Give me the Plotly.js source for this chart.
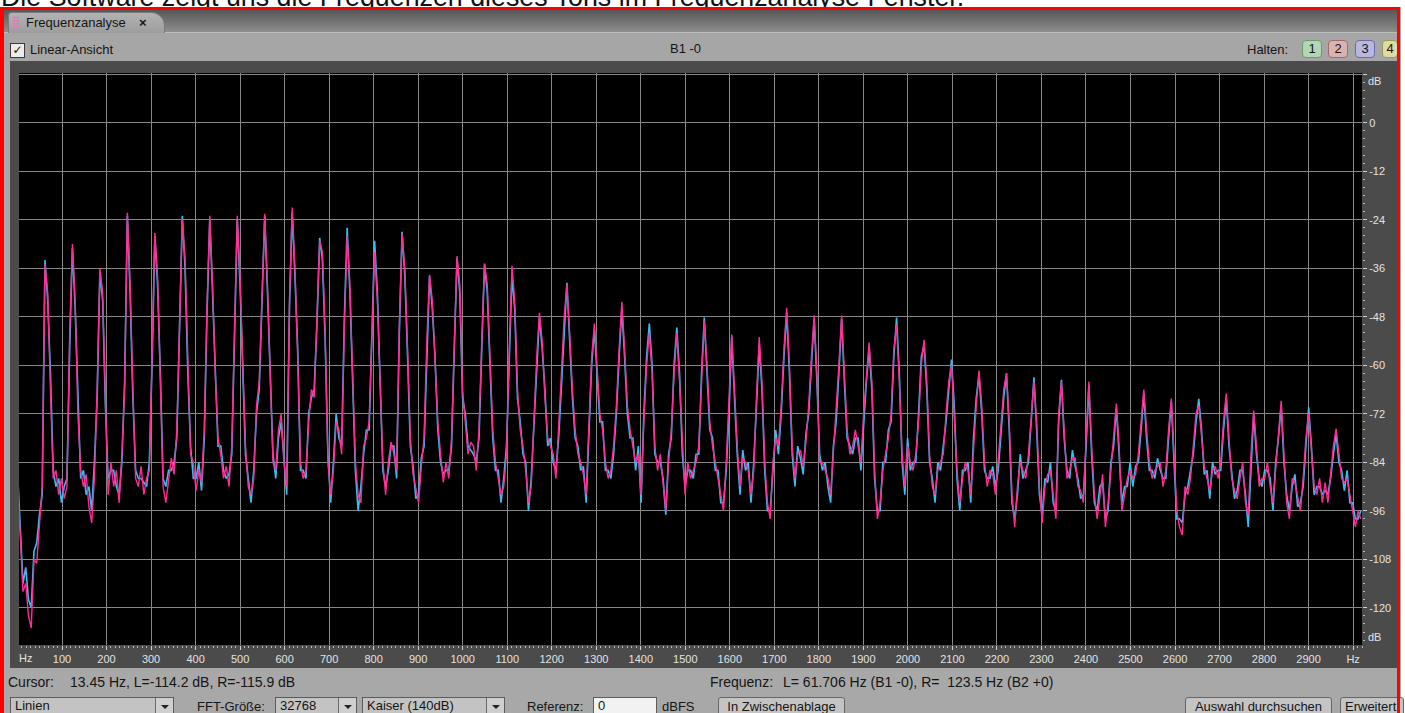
<!DOCTYPE html>
<html><head><meta charset="utf-8">
<script src="https://cdn.plot.ly/plotly-3.0.1.min.js"></script>
<style>
html,body{margin:0;padding:0;width:1405px;height:713px;overflow:hidden;background:#fff;font-family:"Liberation Sans",Arial,sans-serif;color:#151515;}
.a{position:absolute;white-space:pre;font-size:13px;line-height:15px;}
.i{font-size:14px;line-height:16px;}
#caption{position:absolute;left:1px;top:-16px;font-size:26.8px;line-height:27px;color:#111;white-space:nowrap;z-index:0;}
#win{position:absolute;left:0;top:7px;width:1401px;height:720px;background:#a8a8a8;z-index:1;}
#tabbar{position:absolute;left:3px;top:10px;width:1394px;height:22px;background:linear-gradient(#575757,#8d8d8d);z-index:2;}
#tab{position:absolute;left:8px;top:12px;width:155px;height:20px;background:linear-gradient(#b3b3b3,#9d9d9d);border:1px solid #7b7b7b;border-bottom:none;border-radius:4px 14px 0 0;z-index:3;}
#toolbar{position:absolute;left:3px;top:32px;width:1394px;height:29px;background:#a6a6a6;border-top:1px solid #bdbdbd;box-sizing:border-box;z-index:2;}
#plot{position:absolute;left:10px;top:61px;width:1387px;height:607px;z-index:4;}
#border{position:absolute;left:0;top:7px;width:1393px;height:720px;border-left:4px solid #f00;border-top:3px solid #f00;border-right:3px solid #f00;z-index:20;pointer-events:none;}
.z{z-index:5;}
.chk{position:absolute;left:10px;top:43px;width:13px;height:13px;border:1px solid #3a3a3a;background:#ececec;z-index:5;font-family:"DejaVu Sans";font-size:12px;line-height:13px;text-align:center;font-weight:bold;color:#111;}
.hb{position:absolute;top:40px;width:18px;height:16px;border-radius:4px;font-size:13px;line-height:16px;text-align:center;z-index:5;}
.box{position:absolute;top:697px;height:20px;background:#c3c3c3;border:1px solid #5c5c5c;box-sizing:border-box;z-index:5;font-size:13px;line-height:16px;padding-left:4px;white-space:pre;}
.arr{position:absolute;right:0;top:0;width:17px;height:20px;border-left:1px solid #6a6a6a;background:#cfcfcf;}
.arr:after{content:"";position:absolute;left:5px;top:7px;border-left:4px solid transparent;border-right:4px solid transparent;border-top:4px solid #222;}
.btn{position:absolute;top:697px;height:20px;background:#c4c4c4;border:1px solid #666;border-radius:3px;box-sizing:border-box;z-index:5;font-size:13px;line-height:17px;text-align:center;white-space:pre;}
.grip{position:absolute;left:13px;top:16px;width:7px;height:13px;z-index:5;background-image:radial-gradient(circle,#e878b8 1px,transparent 1.2px);background-size:3px 3px;}
</style>
</head><body>
<div id="caption">Die Software zeigt uns die Frequenzen dieses Tons im Frequenzanalyse Fenster.</div>
<div id="win"></div>
<div id="tabbar"></div>
<div id="tab"></div>
<div class="grip"></div>
<div class="a z" style="left:26px;top:15px;">Frequenzanalyse</div>
<div class="a z" style="left:139px;top:15px;font-weight:bold;">×</div>
<div id="toolbar"></div>
<div class="chk">✓</div>
<div class="a z" style="left:30px;top:42px;">Linear-Ansicht</div>
<div class="a z" style="left:670px;top:41px;">B1 -0</div>
<div class="a z" style="left:1247px;top:42px;">Halten:</div>
<div class="hb" style="left:1302px;background:#b4d6b4;border:1px solid #6c9a6c;">1</div>
<div class="hb" style="left:1328px;background:#d9b2b2;border:1px solid #9c6c6c;">2</div>
<div class="hb" style="left:1355px;background:#b8b8df;border:1px solid #6c6ca0;">3</div>
<div class="hb" style="left:1382px;width:14px;background:#dcdca4;border:1px solid #9a9a5a;">4</div>
<div id="plot"></div>
<div class="a i z" style="left:8px;top:674px;">Cursor:</div>
<div class="a i z" style="left:70px;top:674px;">13.45 Hz, L=-114.2 dB, R=-115.9 dB</div>
<div class="a i z" style="left:710px;top:674px;">Frequenz:</div>
<div class="a i z" style="left:783px;top:674px;">L= 61.706 Hz (B1 -0), R=  123.5 Hz (B2 +0)</div>
<div class="box" style="left:10px;width:164px;">Linien<div class="arr"></div></div>
<div class="a z" style="left:197px;top:699px;">FFT-Größe:</div>
<div class="box" style="left:275px;width:82px;">32768<div class="arr"></div></div>
<div class="box" style="left:362px;width:143px;">Kaiser (140dB)<div class="arr"></div></div>
<div class="a z" style="left:527px;top:699px;">Referenz:</div>
<div class="box" style="left:593px;width:64px;background:#f2f2f2;">0</div>
<div class="a z" style="left:662px;top:699px;">dBFS</div>
<div class="btn" style="left:718px;width:127px;">In Zwischenablage</div>
<div class="btn" style="left:1185px;width:147px;">Auswahl durchsuchen</div>
<div class="btn" style="left:1340px;width:64px;text-align:left;padding-left:4px;">Erweitert</div>
<div id="border"></div>
<script>
// FFT bins: first bin frequency and bin spacing (Hz)
const BIN_START_HZ = 0;
const BIN_STEP_HZ = 6.1706;

// Right channel (magenta), dB per bin
const RIGHT_DB = [
-88,-104,-116,-114,-122,-125,-108,-109,-100,-90,
-35,-42,-66,-88,-86,-92,-88,-93,-90,-52,
-30,-44,-72,-86,-90,-87,-95,-99,-88,-66,
-36,-42,-68,-92,-84,-90,-86,-94,-82,-66,
-22.3,-40,-66,-88,-90,-85,-92,-88,-86,-58,
-27.3,-38,-64,-90,-94,-89,-83,-87,-76,-50,
-23.8,-34,-60,-82,-84,-91,-86,-89,-76,-45,
-23,-40,-62,-78,-82,-88,-85,-90,-80,-50,
-23,-38,-58,-80,-90,-92,-88,-70,-64,-44,
-22.5,-40,-62,-84,-86,-76,-72,-84,-90,-44,
-21,-36,-58,-84,-88,-86,-74,-66,-68,-48,
-29.2,-32,-52,-84,-92,-86,-74,-76,-82,-50,
-28,-40,-62,-84,-92,-94,-80,-78,-74,-52,
-32,-44,-64,-84,-92,-84,-79,-82,-86,-50,
-27.5,-36,-56,-78,-87,-91,-94,-85,-78,-54,
-37.6,-44,-60,-74,-82,-89,-84,-88,-78,-54,
-33,-40,-66,-74,-82,-79,-80,-86,-76,-54,
-34.8,-40,-60,-76,-84,-88,-92,-90,-82,-56,
-35.4,-44,-66,-76,-80,-86,-94,-90,-72,-58,
-47,-54,-68,-78,-80,-82,-88,-76,-62,-48,
-40,-52,-66,-76,-82,-84,-87,-92,-76,-58,
-49.7,-60,-72,-76,-84,-88,-86,-80,-70,-56,
-44.3,-56,-70,-76,-80,-84,-82,-92,-74,-60,
-52,-62,-80,-86,-82,-90,-96,-84,-76,-62,
-52,-64,-80,-92,-84,-88,-86,-84,-80,-64,
-49,-60,-74,-80,-84,-88,-92,-96,-84,-70,
-52.4,-66,-80,-90,-83,-84,-86,-92,-86,-68,
-53,-64,-84,-94,-98,-84,-78,-80,-70,-56,
-45.8,-60,-80,-88,-82,-81,-85,-79,-70,-58,
-47.7,-62,-84,-84,-86,-88,-92,-82,-72,-60,
-47.7,-62,-76,-82,-80,-76,-80,-84,-72,-62,
-54.4,-64,-86,-98,-94,-86,-82,-78,-72,-56,
-50,-64,-82,-90,-80,-84,-86,-82,-74,-60,
-53.7,-64,-82,-90,-92,-86,-84,-82,-72,-64,
-60,-72,-86,-94,-88,-84,-86,-92,-80,-70,
-61.3,-70,-84,-90,-86,-87,-92,-84,-74,-66,
-62,-74,-92,-100,-90,-84,-86,-88,-82,-72,
-64,-74,-90,-99,-90,-87,-86,-92,-98,-72,
-64,-76,-88,-86,-83,-83,-90,-91,-94,-78,
-64,-80,-92,-98,-92,-87,-100,-94,-86,-78,
-69.5,-80,-96,-92,-88,-86,-88,-87,-82,-74,
-66,-76,-84,-88,-86,-85,-84,-90,-86,-76,
-68.2,-82,-96,-100,-102,-90,-92,-88,-80,-72,
-70,-78,-85,-88,-91,-86,-85,-88,-84,-74,
-67,-78,-88,-91,-93,-88,-84,-94,-97,-82,
-71.2,-80,-90,-88,-88,-84,-90,-94,-86,-76,
-68.8,-82,-94,-98,-88,-89,-93,-96,-88,-78,
-72,-82,-90,-92,-88,-94,-89,-94,-86,-80,
-75.7,-82,-88,-89,-88,-92,-96,-100,-96,-98
];

// Left channel (cyan), dB per bin
const LEFT_DB = [
-86,-100,-114,-110,-118,-120,-106,-104,-97,-92,
-34,-44,-62,-86,-90,-88,-94,-90,-88,-56,
-31,-46,-70,-88,-86,-92,-90,-96,-84,-68,
-37,-44,-70,-88,-86,-86,-90,-92,-84,-64,
-23,-42,-68,-86,-88,-88,-89,-90,-84,-60,
-28,-40,-62,-88,-90,-86,-86,-84,-78,-52,
-23,-36,-62,-80,-88,-88,-84,-91,-78,-47,
-24,-42,-60,-80,-80,-86,-88,-87,-82,-52,
-24,-40,-60,-82,-88,-94,-86,-72,-66,-46,
-23,-42,-60,-82,-88,-78,-74,-82,-92,-46,
-22,-38,-56,-86,-86,-88,-72,-68,-66,-50,
-28.5,-34,-54,-82,-94,-84,-72,-78,-80,-48,
-26,-42,-64,-86,-96,-90,-82,-76,-76,-50,
-29.2,-42,-62,-86,-90,-86,-80,-80,-88,-52,
-27,-38,-58,-80,-85,-93,-92,-83,-80,-56,
-38,-46,-58,-76,-84,-87,-86,-86,-80,-56,
-33.5,-42,-68,-72,-80,-81,-82,-84,-78,-56,
-35,-42,-62,-78,-86,-86,-94,-88,-80,-58,
-38,-46,-68,-74,-82,-84,-96,-88,-74,-60,
-48,-56,-66,-80,-78,-84,-86,-78,-64,-50,
-39.6,-54,-68,-78,-80,-86,-85,-94,-78,-60,
-51,-62,-74,-74,-86,-86,-88,-82,-72,-58,
-46,-58,-72,-78,-78,-86,-80,-94,-72,-58,
-49.7,-60,-82,-84,-84,-88,-97,-82,-78,-60,
-50.7,-62,-82,-90,-86,-86,-88,-82,-82,-62,
-48.2,-62,-76,-78,-86,-86,-94,-94,-86,-72,
-53,-68,-82,-92,-81,-86,-84,-94,-84,-70,
-55,-66,-86,-96,-96,-86,-76,-82,-72,-58,
-47,-62,-82,-90,-80,-83,-87,-77,-72,-60,
-48.5,-64,-82,-86,-84,-90,-94,-80,-74,-62,
-48.5,-64,-78,-80,-82,-78,-78,-86,-74,-64,
-56,-66,-88,-96,-96,-84,-84,-76,-74,-58,
-48.2,-62,-84,-92,-78,-86,-84,-84,-72,-58,
-55,-66,-84,-88,-94,-84,-86,-80,-74,-66,
-58.6,-70,-88,-96,-86,-86,-84,-94,-78,-68,
-62.5,-72,-86,-88,-88,-85,-90,-86,-76,-68,
-62,-76,-94,-98,-92,-82,-88,-86,-84,-74,
-63,-76,-92,-97,-88,-89,-84,-94,-96,-74,
-63.6,-78,-86,-88,-81,-85,-88,-93,-92,-80,
-65,-82,-94,-96,-90,-89,-98,-96,-84,-80,
-70.5,-82,-94,-90,-90,-84,-90,-85,-84,-76,
-67,-78,-86,-86,-88,-83,-86,-88,-88,-78,
-69,-84,-98,-98,-99,-92,-90,-86,-82,-74,
-68.3,-76,-87,-86,-93,-84,-87,-86,-86,-76,
-68,-80,-86,-93,-91,-86,-86,-92,-100,-84,
-72,-82,-88,-90,-86,-86,-88,-96,-84,-78,
-70,-84,-92,-96,-90,-87,-95,-94,-90,-80,
-70.4,-80,-92,-90,-90,-92,-91,-92,-88,-82,
-77,-84,-86,-91,-86,-94,-94,-98,-98,-96
];

const X_TICK_VALUES = [100,200,300,400,500,600,700,800,900,1000,1100,1200,1300,1400,1500,1600,1700,1800,1900,2000,2100,2200,2300,2400,2500,2600,2700,2800,2900,3000];
const X_TICK_LABELS = ["100","200","300","400","500","600","700","800","900","1000","1100","1200","1300","1400","1500","1600","1700","1800","1900","2000","2100","2200","2300","2400","2500","2600","2700","2800","2900","Hz"];
const Y_TICK_VALUES = [12,0,-12,-24,-36,-48,-60,-72,-84,-96,-108,-120];
const Y_TICK_LABELS = ["","0","-12","-24","-36","-48","-60","-72","-84","-96","-108","-120"];

const tickFont = {family:'"Liberation Sans", Arial, sans-serif', size:11, color:'#e2e2e2'};

const traces = [
  {type:'scatter', mode:'lines', name:'L', x0:BIN_START_HZ, dx:BIN_STEP_HZ, y:LEFT_DB,
   line:{color:'#3bbcf2', width:1.6}, hoverinfo:'skip'},
  {type:'scatter', mode:'lines', name:'R', x0:BIN_START_HZ, dx:BIN_STEP_HZ, y:RIGHT_DB,
   line:{color:'#ff2b92', width:1.4}, hoverinfo:'skip'}
];

const layout = {
  width:1387, height:607,
  margin:{l:9, r:35, t:12, b:23, pad:0},
  paper_bgcolor:'#4b4b4b', plot_bgcolor:'#000000',
  showlegend:false,
  xaxis:{range:[3.4,3020], tickmode:'array', tickvals:X_TICK_VALUES, ticktext:X_TICK_LABELS,
    showgrid:true, gridcolor:'#878787', gridwidth:1, zeroline:false, showline:false,
    ticks:'outside', ticklen:4, tickcolor:'#d0d0d0', tickwidth:1, tickfont:tickFont, tickangle:0,
    minor:{tickmode:'linear', tick0:0, dtick:10, ticks:'outside', ticklen:2, tickcolor:'#b8b8b8', showgrid:false},
    fixedrange:true},
  yaxis:{side:'right', range:[-129.2,12.3], tickmode:'array', tickvals:Y_TICK_VALUES, ticktext:Y_TICK_LABELS,
    showgrid:true, gridcolor:'#878787', gridwidth:1, zeroline:false, showline:false,
    ticks:'outside', ticklen:4, tickcolor:'#d0d0d0', tickwidth:1, tickfont:tickFont,
    minor:{tickmode:'linear', tick0:0, dtick:2, ticks:'outside', ticklen:2, tickcolor:'#b8b8b8', showgrid:false},
    fixedrange:true},
  annotations:[
    {text:'Hz', xref:'x', x:19, yref:'paper', y:0, yanchor:'top', xanchor:'center', yshift:-5, showarrow:false, font:tickFont},
    {text:'dB', xref:'paper', x:1, xanchor:'left', xshift:4, yref:'y', y:10.3, showarrow:false, font:tickFont},
    {text:'dB', xref:'paper', x:1, xanchor:'left', xshift:4, yref:'y', y:-127.2, showarrow:false, font:tickFont}
  ]
};

Plotly.newPlot('plot', traces, layout, {displayModeBar:false, staticPlot:true});
</script>
</body></html>
